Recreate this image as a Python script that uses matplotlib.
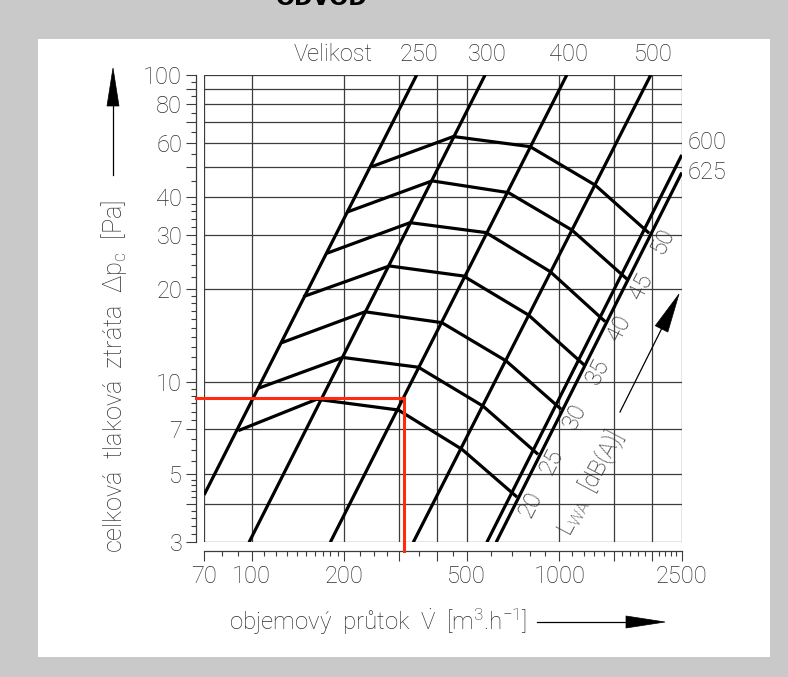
import matplotlib
matplotlib.use('Agg')
import matplotlib.pyplot as plt
from matplotlib.patches import Rectangle, Polygon
from matplotlib.lines import Line2D
from matplotlib.ticker import FixedLocator, FixedFormatter, NullFormatter
import numpy as np

plt.rcParams['font.family'] = ['Roboto', 'DejaVu Sans']
plt.rcParams['font.weight'] = 'light'
plt.rcParams['mathtext.fontset'] = 'custom'
plt.rcParams['mathtext.rm'] = 'Roboto:light'
plt.rcParams['mathtext.it'] = 'Roboto:light'
plt.rcParams['mathtext.bf'] = 'Roboto:bold'

# ---- data -----------------------------------------------------------
# duct sizes: straight characteristic lines (flow m3/h, pressure Pa)
SIZE_NAMES = ['250', '300', '400', '500', '600', '625']
SIZE_FLOW_LOW = [70, 98, 180, 335, 581, 623]
SIZE_DP_LOW = [4.28, 3, 3, 3, 3, 3]
SIZE_FLOW_HIGH = [344, 574, 1058, 1984, 2500, 2500]
SIZE_DP_HIGH = [100, 100, 100, 100, 54.8, 48.0]

# sound power level curves L_WA [dB(A)]
NOISE_LEVELS = [20, 25, 30, 35, 40, 45, 50]
NOISE_FLOW = [
    [90.4, 162.6, 299.7, 481.8, 728.6],
    [105.0, 197.6, 348.2, 563.8, 853.0],
    [125.1, 233.6, 414.7, 671.2, 1013.0],
    [147.1, 280.1, 487.7, 793.2, 1204.0],
    [175.3, 327.1, 577.8, 933.5, 1409.0],
    [203.6, 385.7, 682.9, 1097.9, 1661.0],
    [245.6, 452.4, 803.3, 1306.9, 1958.6],
]
NOISE_DP = [
    [6.93, 8.77, 8.09, 6.03, 4.21],
    [9.52, 12.0, 11.15, 8.34, 5.80],
    [13.4, 16.9, 15.58, 11.69, 8.14],
    [18.93, 23.83, 22.1, 16.5, 11.34],
    [26.2, 32.97, 30.6, 22.84, 15.7],
    [35.66, 45.1, 41.3, 31.2, 21.57],
    [50.2, 62.9, 58.3, 43.7, 30.45],
]

# worked example (red)
EXAMPLE_FLOW = 312
EXAMPLE_DP = 8.87

# axis scales
X_LIMITS = (70, 2500)
Y_LIMITS = (3, 100)
X_LABELLED = [70, 100, 200, 500, 1000, 2500]
X_GRID = [100, 200, 300, 400, 500, 1000, 1500, 2000]
X_MINOR = [80, 90, 110, 120, 130, 140, 150, 160, 170, 180, 190,
           225, 250, 275, 350, 450, 600, 700, 800, 900,
           1100, 1200, 1300, 1400, 1600, 1700, 1800, 1900,
           2100, 2200, 2300, 2400]
Y_LABELLED = [3, 5, 7, 10, 20, 30, 40, 60, 80, 100]
Y_GRID = [4, 5, 7, 10, 20, 30, 40, 50, 60, 70, 80, 90]
Y_MINOR = [3.2, 3.4, 3.6, 3.8, 4.2, 4.4, 4.6, 4.8,
           5.5, 6, 6.5, 7.5, 8, 8.5, 9, 9.5,
           11, 12, 13, 14, 15, 16, 17, 18, 19,
           22, 24, 26, 28, 32, 34, 36, 38,
           45, 55, 65, 75, 85, 95]

# ---- figure ---------------------------------------------------------
W, H = 788, 677
DPI = 100
TEXT = '#2e2e2e'
GRID = '#3c3c3c'
FS = 17


def fx(px):
    return px / W


def fy(py):
    return 1 - py / H


fig = plt.figure(figsize=(W / DPI, H / DPI), dpi=DPI)
fig.patch.set_facecolor('#c9c9c9')
fig.add_artist(Rectangle((fx(37.5), fy(656.7)), fx(770) - fx(37.5),
                         fy(39.3) - fy(656.7), transform=fig.transFigure,
                         facecolor='white', edgecolor='none', zorder=0))

# heading of the sheet, running off the top edge of the page
fig.text(fx(322), fy(5), 'ODVOD', ha='center', va='baseline',
         fontsize=16, fontweight='bold', family='DejaVu Sans', color='black')

ax = fig.add_axes([fx(204.1), fy(542.3), (681.8 - 204.1) / W,
                   (542.3 - 74.7) / H])
ax.set_facecolor('none')
ax.set_xscale('log')
ax.set_yscale('log')
ax.set_xlim(*X_LIMITS)
ax.set_ylim(*Y_LIMITS)

# plot frame and grid
ax.add_patch(Rectangle((0, 0), 1, 1, transform=ax.transAxes, fill=False,
                       edgecolor=GRID, lw=0.9, zorder=1))
for gx in X_GRID:
    ax.axvline(gx, color=GRID, lw=0.9, zorder=1)
for gy in Y_GRID:
    ax.axhline(gy, color=GRID, lw=0.9, zorder=1)

# scale bars offset from the frame
for side in ('top', 'right'):
    ax.spines[side].set_visible(False)
ax.spines['bottom'].set_position(('outward', 6.5))
ax.spines['left'].set_position(('outward', 6.0))
for side in ('bottom', 'left'):
    ax.spines[side].set_color(GRID)
    ax.spines[side].set_linewidth(0.9)

x_major = sorted(set(X_LABELLED) | set(X_GRID))
ax.xaxis.set_major_locator(FixedLocator(x_major))
ax.xaxis.set_major_formatter(FixedFormatter(
    [str(v) if v in X_LABELLED else '' for v in x_major]))
ax.xaxis.set_minor_locator(FixedLocator(X_MINOR))
ax.xaxis.set_minor_formatter(NullFormatter())

y_major = sorted(set(Y_LABELLED) | set(Y_GRID))
ax.yaxis.set_major_locator(FixedLocator(y_major))
ax.yaxis.set_major_formatter(FixedFormatter(
    [str(v) if v in Y_LABELLED else '' for v in y_major]))
ax.yaxis.set_minor_locator(FixedLocator(Y_MINOR))
ax.yaxis.set_minor_formatter(NullFormatter())

ax.tick_params(which='major', direction='out', length=7.2, width=0.8,
               color=GRID, labelsize=FS, labelcolor=TEXT, pad=2.5)
ax.tick_params(which='minor', direction='out', length=3.8, width=0.8,
               color=GRID)

# size characteristics
for name, x0, y0, x1, y1 in zip(SIZE_NAMES, SIZE_FLOW_LOW, SIZE_DP_LOW,
                                SIZE_FLOW_HIGH, SIZE_DP_HIGH):
    ax.plot([x0, x1], [y0, y1], color='black', lw=2.3,
            solid_capstyle='butt', zorder=3)
    if y1 >= Y_LIMITS[1]:
        ax.annotate(name, xy=(x1, y1), xytext=(2, 20),
                    textcoords='offset pixels', ha='center', va='center',
                    fontsize=FS, color=TEXT, annotation_clip=False)
    else:
        dy = 12 if name == '600' else 0
        ax.annotate(name, xy=(x1, y1), xytext=(6, dy),
                    textcoords='offset pixels', ha='left', va='center',
                    fontsize=FS, color=TEXT, annotation_clip=False)

ax.annotate('Velikost', xy=(SIZE_FLOW_HIGH[0], SIZE_DP_HIGH[0]),
            xytext=(-44, 20), textcoords='offset pixels', ha='right',
            va='center', fontsize=FS, color=TEXT, annotation_clip=False)

# noise curves
for lvl, flows, dps in zip(NOISE_LEVELS, NOISE_FLOW, NOISE_DP):
    ax.plot(flows, dps, color='black', lw=2.3, solid_joinstyle='round',
            solid_capstyle='butt', zorder=3)
    ax.annotate(str(lvl), xy=(flows[-1], dps[-1]), xytext=(14, -7),
                textcoords='offset pixels', ha='center', va='center',
                rotation=63, rotation_mode='anchor', fontsize=FS,
                color=TEXT)

# worked example: from the pressure scale to the flow scale
inv = ax.transData.inverted()
px_pt, py_pt = ax.transData.transform((EXAMPLE_FLOW, EXAMPLE_DP))
x_left = inv.transform((ax.bbox.x0 - 8.4, py_pt))[0]
y_bottom = inv.transform((px_pt, ax.bbox.y0 - 9.0))[1]
ax.plot([x_left, EXAMPLE_FLOW, EXAMPLE_FLOW],
        [EXAMPLE_DP, EXAMPLE_DP, y_bottom], color='#ff2a10', lw=2.2,
        solid_joinstyle='miter', clip_on=False, zorder=4)


# arrows in figure pixels (origin top-left)
def arrow(tail, tip, head_len, head_half, lw=0.9):
    t = np.array(tail, float)
    p = np.array(tip, float)
    u = (p - t) / np.hypot(*(p - t))
    n = np.array([-u[1], u[0]])
    base = p - u * head_len
    fig.add_artist(Line2D([fx(t[0]), fx(base[0])], [fy(t[1]), fy(base[1])],
                          transform=fig.transFigure, color='black', lw=lw))
    pts = [p, base + n * head_half, base - n * head_half]
    fig.add_artist(Polygon([(fx(a), fy(b)) for a, b in pts], closed=True,
                           transform=fig.transFigure, facecolor='black',
                           edgecolor='black', lw=0.5))


arrow((113, 175), (113, 68), 38, 6)
arrow((537, 622), (665, 622), 39, 6)
arrow((620, 412), (679, 294), 39, 7)

fig.text(fx(114), fy(376), 'celková  tlaková  ztráta  Δp$_\\mathregular{c}$  [Pa]',
         rotation=90, ha='center', va='center', fontsize=18.3, color=TEXT)
fig.text(fx(229), fy(622),
         'objemový  průtok  $\\dot{\\mathregular{V}}$  [m$^\\mathregular{3}$.h$^\\mathregular{-1}$]',
         ha='left', va='center', fontsize=17.4, color=TEXT)
fig.text(fx(591), fy(483), 'L$_\\mathregular{WA}$  [dB(A)]', rotation=62,
         ha='center', va='center', fontsize=FS, color=TEXT)

fig.savefig('out.png', dpi=DPI, facecolor=fig.get_facecolor())
